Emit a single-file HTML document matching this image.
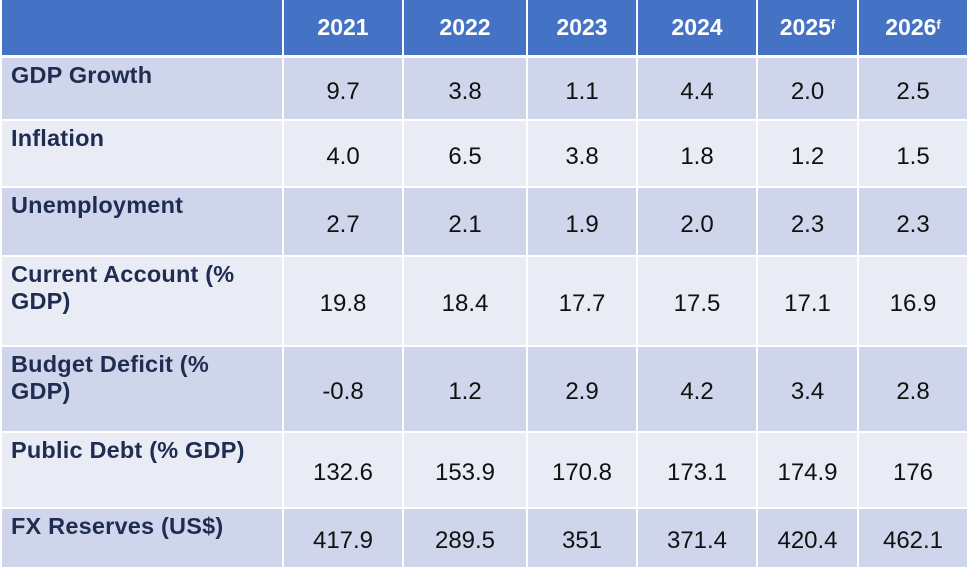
<!DOCTYPE html>
<html><head><meta charset="utf-8"><style>
body{margin:0;width:967px;height:567px;background:#fff;position:relative;overflow:hidden;font-family:"Liberation Sans",Arial,sans-serif}
.c{position:absolute;box-sizing:border-box}
.h{background:#4472C4;color:#fff;font-weight:bold;font-size:23px;display:flex;align-items:center;justify-content:center}
.l{color:#1F2D50;font-weight:bold;font-size:23.5px;padding:4px 0 0 9px;line-height:27px;letter-spacing:0.2px}
.n{color:#111;font-size:24px;display:flex;align-items:center;justify-content:center;padding-top:6px}
.a{background:#CFD5EA}.b{background:#E9EBF5}
sup{font-size:13px;position:relative;top:-3px}
</style></head><body>
<div id="t"></div>
<script>
var cols=[[2,282],[284,402],[404,526],[528,636],[638,756],[758,857],[859,967]];
var rows=[[0,55],[58,119],[121,186],[188,255],[257,345],[347,431],[433,507],[509,567]];
var hd=["","2021","2022","2023","2024","2025<sup>f</sup>","2026<sup>f</sup>"];
var data=[["GDP Growth","9.7","3.8","1.1","4.4","2.0","2.5"],
["Inflation","4.0","6.5","3.8","1.8","1.2","1.5"],
["Unemployment","2.7","2.1","1.9","2.0","2.3","2.3"],
["Current Account (%<br>GDP)","19.8","18.4","17.7","17.5","17.1","16.9"],
["Budget Deficit (%<br>GDP)","-0.8","1.2","2.9","4.2","3.4","2.8"],
["Public Debt (% GDP)","132.6","153.9","170.8","173.1","174.9","176"],
["FX Reserves (US$)","417.9","289.5","351","371.4","420.4","462.1"]];
var h="";
for(var r=0;r<rows.length;r++)for(var c=0;c<7;c++){
var x=cols[c][0],w=cols[c][1]-x,y=rows[r][0],hh=rows[r][1]-y;
var cls,txt;
if(r==0){cls="h";txt=hd[c];}
else{cls=(c==0?"l ":"n ")+(r%2?"a":"b");txt=data[r-1][c];}
h+='<div class="c '+cls+'" style="left:'+x+'px;top:'+y+'px;width:'+w+'px;height:'+hh+'px">'+txt+'</div>';}
document.getElementById("t").innerHTML=h;
</script>
</body></html>
